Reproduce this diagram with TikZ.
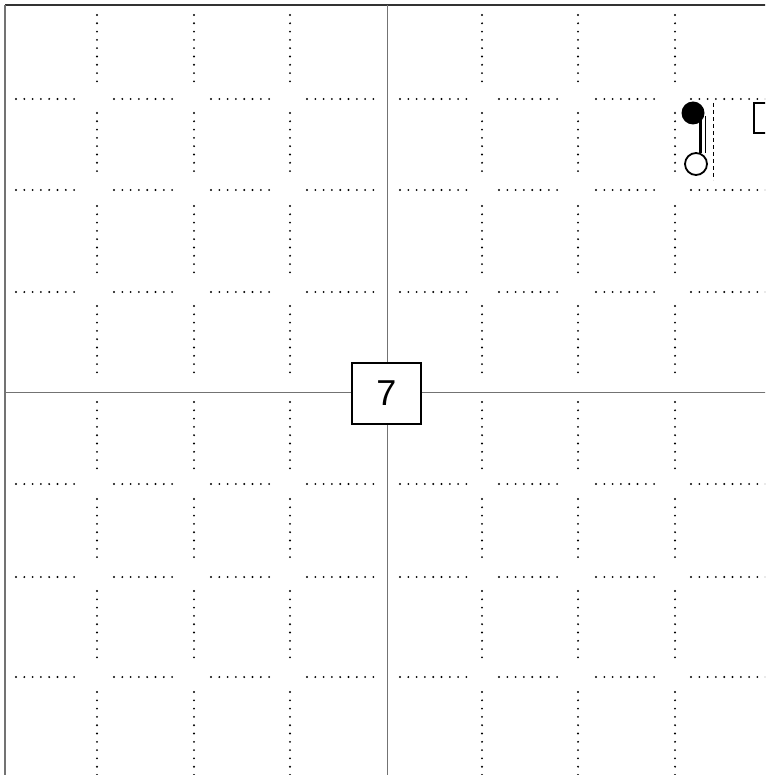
\documentclass[tikz,border=0pt]{standalone}
\usepackage{fontspec}
\setmainfont{Liberation Sans}
\usepackage{xcolor}
\definecolor{boardgray}{gray}{0.45}

\tikzset{
  dotline/.style={line width=2.1pt, line cap=round, dash pattern=on 0pt off 8.3pt, black},
  axisline/.style={boardgray, line width=1pt},
  numberbox/.style={draw, line width=2pt, fill=white, minimum width=69pt, minimum height=61pt, font=\fontsize{36}{42}\selectfont}
}

\begin{document}
\begin{tikzpicture}[x=1pt, y=-1pt]
    \useasboundingbox (0,0) rectangle (765,775);
    \clip (0,0) rectangle (765,775);

    % Rand
    \draw[black!80, line width=1.5pt] (5,5) -- (770,5);
    \draw[boardgray, line width=1.5pt] (5,5) -- (5,780);

    % Punktraster, senkrecht
    \foreach \x in {97,194,290,482,578,675}
      \foreach \a/\b in {15/82, 113/176, 206/278, 306/379, 402/470, 499/562, 591/663, 692/780}
        \draw[dotline] (\x,\a) -- (\x,\b);

    % Punktraster, waagrecht
    \foreach \y in {99,190,292,484,577,677}
      \foreach \a/\b in {16/82, 114/177, 211/276, 307/378, 400/468, 499/562, 596/660, 691/780}
        \draw[dotline] (\a,\y) -- (\b,\y);

    % Achsen
    \draw[axisline] (387,5) -- (387,780);
    \draw[axisline] (5,392) -- (770,392);

    % Nummer
    \node[numberbox] (nummer) at (386.5,393.5) {7};

    % Marke oben rechts
    \draw[line width=1pt, dash pattern=on 4pt off 3pt] (713,103) -- (713,180);
    \draw[line width=3pt] (700,116) -- (700,153);
    \draw[line width=1pt] (705,116) -- (705,153);
    \fill (693,113) circle (11.5);
    \draw[line width=1.8pt, fill=white] (696,164) circle (11);
    \draw[line width=2pt] (754,103) rectangle (785,133);
\end{tikzpicture}
\end{document}
